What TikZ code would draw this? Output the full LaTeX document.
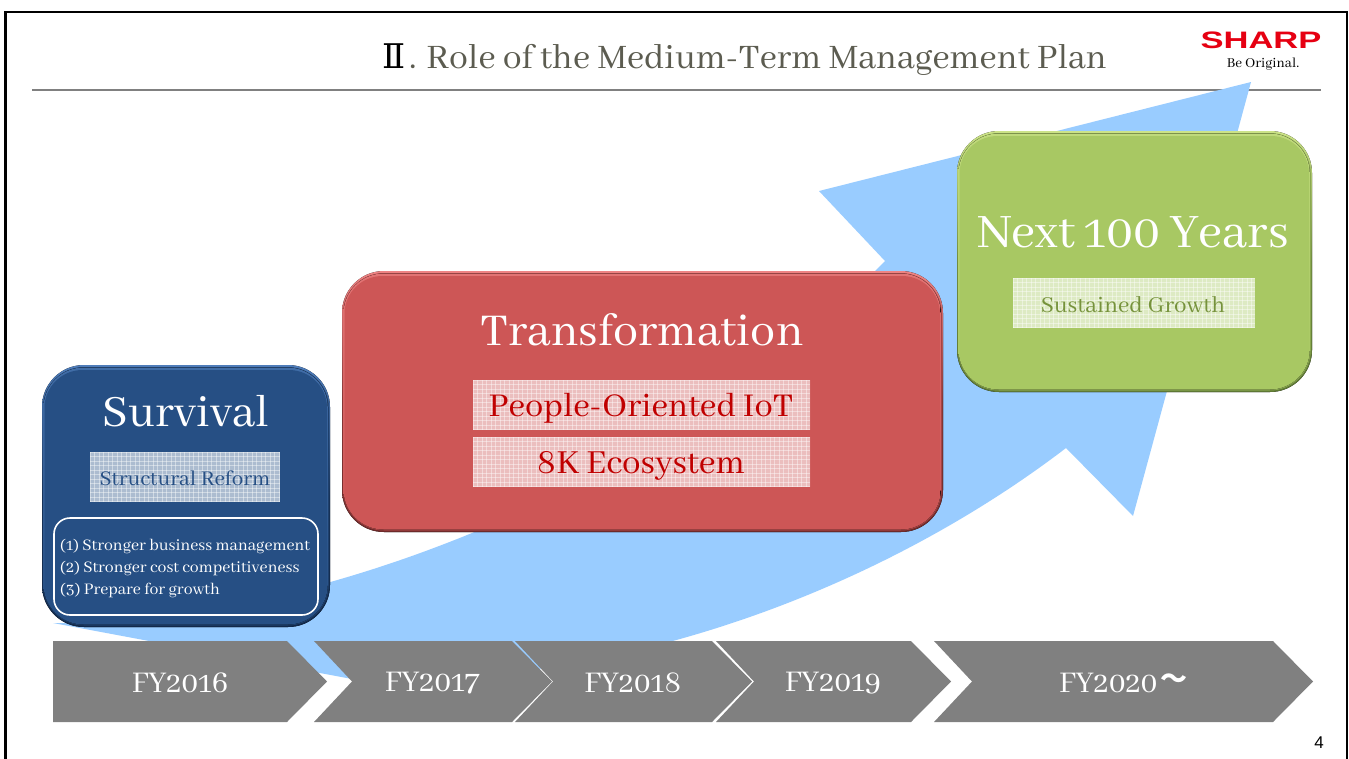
\documentclass[tikz,border=0pt]{standalone}
\usepackage{fontspec}
\setmainfont{Abhaya Libre}
\newfontfamily\logofont{Liberation Sans}[FakeStretch=1.45]
\newfontfamily\plainsans{Liberation Sans}
\newfontfamily\numfont{DejaVu Serif}
\newfontfamily\cjkfont{Noto Sans CJK JP}
\definecolor{skyb}{HTML}{99CCFF}
\definecolor{navy}{HTML}{264F84}
\definecolor{navyl}{HTML}{4F7DBA}
\definecolor{navyd}{HTML}{12294A}
\definecolor{brick}{HTML}{CD5656}
\definecolor{brickl}{HTML}{EE8484}
\definecolor{brickd}{HTML}{6E2A2A}
\definecolor{leaf}{HTML}{A8C863}
\definecolor{leafl}{HTML}{CCE388}
\definecolor{leafd}{HTML}{5E7834}
\definecolor{greyc}{HTML}{808080}
\definecolor{titlec}{HTML}{5C5C50}
\definecolor{sharpred}{HTML}{E60012}
\definecolor{tagred}{HTML}{C00000}
\definecolor{taggreen}{HTML}{76923C}
\tikzset{
  x=1pt,y=-1pt,
  chev/.style={fill=greyc,draw=none},
  chevtext/.style={text=white,font=\fontsize{33}{33}\selectfont,inner sep=0pt},
  heading/.style={text=white,inner sep=0pt},
  tagfill/.style={fill=white,fill opacity=.62},
  tagline/.style={white,draw opacity=.42,line width=.9pt},
  tagtext/.style={inner sep=0pt},
}
\newcommand{\bevelbox}[7]{% x1 y1 x2 y2 main light dark
  \fill[top color=#6,bottom color=#7,middle color=#7!75!#5,rounded corners=42pt] (#1,#2) rectangle (#3,#4);
  \fill[#5!60!#7,rounded corners=41pt] (#1+1,#2+2) rectangle (#3-1.2,#4-1.5);
  \fill[top color=#6!65!#5,bottom color=#5,rounded corners=40pt] (#1+1.5,#2+2.5) rectangle (#3-2.2,#4-2.5);
  \fill[#5,rounded corners=38pt] (#1+2.5,#2+5) rectangle (#3-3,#4-3.5);
}
\newcommand{\tagbox}[4]{% x1 y1 x2 y2
  \fill[tagfill] (#1,#2) rectangle (#3,#4);
  \begin{scope}
    \clip (#1,#2) rectangle (#3,#4);
    \foreach \k in {0,4.5,...,345}{\draw[tagline] (#1+\k,#2) -- (#1+\k,#4);}
    \foreach \k in {0,4.5,...,50}{\draw[tagline] (#1,#2+\k) -- (#3,#2+\k);}
  \end{scope}
}
\begin{document}
\begin{tikzpicture}[line join=miter]
\useasboundingbox (0,0) rectangle (1349,758);
\fill[white] (0,0) rectangle (1349,758);
\draw[black,line width=2.6pt] (5.5,760) -- (5.5,12) -- (1347,12) -- (1347,760);
\draw[greyc,line width=1.2pt] (32,90) -- (1321,90);
\fill[skyb] (53,623) -- (352,679) .. controls (640,690) and (900,575) .. (1066,448) -- (1133,516) -- (1251,82) -- (819,191) -- (885,261) .. controls (650,500) and (300,625) .. (53,623) -- cycle;
\node[text=black,font=\numfont\fontsize{34}{34}\selectfont,anchor=base west,inner sep=0pt] (num) at (382,68.5) {Ⅱ};
\node[text=titlec,font=\fontsize{37.7}{37.7}\selectfont,anchor=base west,inner sep=0pt] (dot) at (409,68.5) {.};
\node[text=titlec,font=\fontsize{37.7}{37.7}\selectfont,anchor=base east,inner sep=0pt] (title) at (1107,68.5) {Role of the Medium-Term Management Plan};
\node[text=sharpred,font=\logofont\bfseries\fontsize{23.8}{24}\selectfont,inner sep=0pt] (logo) at (1261,40) {SHARP};
\node[text=black,font=\fontsize{15}{15}\selectfont,inner sep=0pt] (orig) at (1263,64) {Be Original.};
\node[font=\plainsans\fontsize{17}{17}\selectfont,inner sep=0pt] (pg) at (1319,743) {4};
\bevelbox{42}{365}{330}{627}{navy}{navyl}{navyd}
\bevelbox{342}{271}{943}{532}{brick}{brickl}{brickd}
\bevelbox{957}{131}{1312}{392}{leaf}{leafl}{leafd}
\foreach \n/\a/\b in {a/53/327,b/314/552,c/515/752,d/716/951,e/934/1313}{
  \fill[chev] (\a,641) -- (\b-40,641) -- (\b,681.5) -- (\b-40,722) -- (\a,722) \ifnum\pdfstrcmp{\n}{a}=0 \else -- (\a+38,681.5) \fi -- cycle;
}
\node[chevtext] (f1) at (180,683) {FY2016};
\node[chevtext] (f2) at (432,683) {FY2017};
\node[chevtext] (f3) at (633,683) {FY2018};
\node[chevtext] (f4) at (833,683) {FY2019};
\node[chevtext,anchor=west] (f5) at (1059,683) {FY2020};
\node[text=white,font=\cjkfont\bfseries\fontsize{27}{27}\selectfont,inner sep=0pt] (wave) at (1174,681) {〜};
\node[heading,font=\fontsize{49}{49}\selectfont] (s) at (186,411) {Survival};
\tagbox{90}{452}{280}{502}
\node[tagtext,text=navy,font=\fontsize{23}{23}\selectfont] (sr) at (185,478) {Structural Reform};
\draw[white,line width=1.6pt,rounded corners=16pt] (54,518) rectangle (318,615);
\node[text=white,anchor=west,inner sep=0pt,font=\fontsize{17.7}{22}\selectfont,align=left] (list) at (60,568.5) {(1) Stronger business management\\(2) Stronger cost competitiveness\\(3) Prepare for growth};
\node[heading,font=\fontsize{50}{50}\selectfont] (t) at (642,330) {Transformation};
\tagbox{473}{380}{810}{430}
\tagbox{473}{437}{810}{487}
\node[tagtext,text=tagred,font=\fontsize{36.5}{36.5}\selectfont] (p) at (641,408) {People-Oriented IoT};
\node[tagtext,text=tagred,font=\fontsize{37}{37}\selectfont] (k) at (641,466) {8K Ecosystem};
\node[heading,font=\fontsize{52.8}{52.8}\selectfont] (n) at (1133,232) {Next 100 Years};
\tagbox{1013}{278}{1255}{328}
\node[tagtext,text=taggreen,font=\fontsize{25}{25}\selectfont] (g) at (1133,305) {Sustained Growth};
\end{tikzpicture}
\end{document}
